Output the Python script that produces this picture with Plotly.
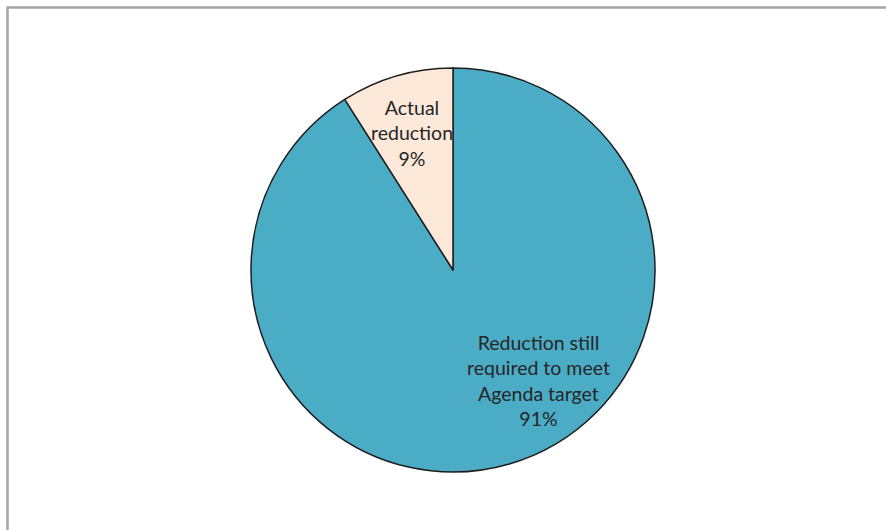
import plotly.graph_objects as go

labels = ["Reduction still required to meet Agenda target", "Actual reduction"]
label_lines = [["Reduction still", "required to meet", "Agenda target"], ["Actual", "reduction"]]
values = [91, 9]
colors = ["#4BACC6", "#FDE9D9"]

W, H = 886, 530
cx, cy, r = 453, 270, 202

fig = go.Figure(go.Pie(
    labels=labels,
    values=values,
    sort=False,
    direction="clockwise",
    rotation=0,
    marker=dict(colors=colors, line=dict(color="#1e1e1e", width=1.5)),
    textinfo="none",
    hoverinfo="label+percent",
    showlegend=False,
    domain=dict(x=[(cx - r) / W, (cx + r) / W], y=[(H - cy - r) / H, (H - cy + r) / H]),
))

total = sum(values)
label_pos = [(538, 380), (412, 133)]
for lines, v, (px, py) in zip(label_lines, values, label_pos):
    txt = "<br>".join(lines + [f"{round(100 * v / total)}%"])
    fig.add_annotation(
        x=px / W, y=(H - py) / H, xref="paper", yref="paper",
        text=txt, showarrow=False, align="center",
        font=dict(family="Lato, Open Sans, sans-serif", size=19.5, color="#262626"),
        xanchor="center", yanchor="middle",
    )

fig.add_shape(type="rect", xref="paper", yref="paper",
              x0=7.5 / W, x1=1.05, y0=-0.05, y1=(H - 7.5) / H,
              line=dict(color="#a5a5a5", width=2.5), fillcolor="rgba(0,0,0,0)")

fig.update_layout(
    width=W, height=H,
    margin=dict(l=0, r=0, t=0, b=0),
    paper_bgcolor="white", plot_bgcolor="white",
)
fig.write_html("out.html")
